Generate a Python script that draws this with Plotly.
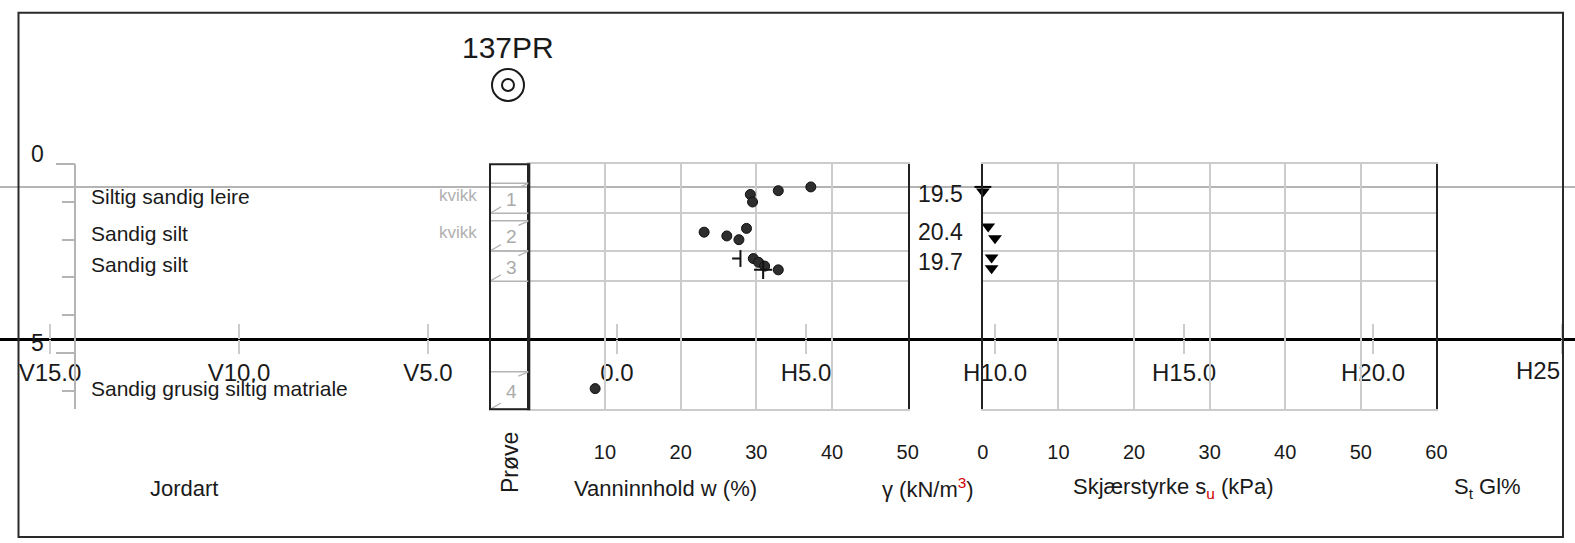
import plotly.graph_objects as go

# ---------------- data ----------------
title_text = "137PR"
w_depth = [0.6, 0.7, 0.8, 1.0, 1.7, 1.8, 1.9, 2.0, 2.5, 2.6, 2.7, 2.8, 5.95]
w_val = [37.2, 32.9, 29.2, 29.5, 28.7, 23.1, 26.1, 27.7, 29.6, 30.3, 31.1, 32.9, 8.7]
wp_depth = [2.5]
wp_val = [27.9]
wl_depth = [2.8]
wl_val = [30.9]
su_depth = [0.72, 1.65, 1.96, 2.47, 2.76]
su_val = [0.0, 0.7, 1.6, 1.15, 1.15]
st_depth = [0.6]
st_val = [0.0]
sample_no = [1, 2, 3, 4]
sample_top = [0.5, 1.5, 2.3, 5.5]
sample_bot = [1.3, 2.3, 3.1, 6.5]
soil = ["Siltig sandig leire", "Sandig silt", "Sandig silt", "Sandig grusig siltig matriale"]
remark = ["kvikk", "kvikk", "", ""]
gamma = ["19.5", "20.4", "19.7", ""]
gw_depth = 0.6
w_ticks = [10, 20, 30, 40, 50]
su_ticks = [0, 10, 20, 30, 40, 50, 60]
depth_ticks = [0, 1, 2, 3, 4, 5, 6]
depth_major = [0, 5]
xs_ticks = [-15, -10, -5, 0, 5, 10, 15, 20, 25]
xs_text = ["V15.0", "V10.0", "V5.0", "0.0", "H5.0", "H10.0", "H15.0", "H20.0", "H25"]

# ---------------- layout geometry ----------------
W, H = 1575, 543
TOP = 164.3      # px of depth 0
PPM = 37.7       # px per metre
DMAX = 6.5
X0 = 617         # px of section 0.0
PPU = 37.8       # px per section unit
FRAME_R = 1563

def fx(px):
    return px / W

def fy(py):
    return 1 - py / H

panel_dom = [fy(TOP + DMAX * PPM), fy(TOP)]
FN = "Liberation Sans Narrow, Arial Narrow, Liberation Sans, Arial, sans-serif"
FS = "Liberation Sans, Arial, sans-serif"
INK = "#1a1a1a"
GRID = "#cccccc"
LG = "#b4b4b4"

fig = go.Figure()

# registration traces for all subplots
for xa, ya in [("x", "y"), ("x", "y4"), ("x", "y5"), ("x4", "y"), ("x5", "y"), ("x6", "y")]:
    fig.add_trace(go.Scatter(x=[None], y=[None], xaxis=xa, yaxis=ya,
                             showlegend=False, hoverinfo="skip"))

# water content
fig.add_trace(go.Scatter(x=w_val, y=w_depth, xaxis="x2", yaxis="y2", mode="markers",
                         marker=dict(size=10, color="#2e2e2e", line=dict(color="#111", width=1)),
                         cliponaxis=False, showlegend=False, hoverinfo="skip"))
fig.add_trace(go.Scatter(x=wp_val, y=wp_depth, xaxis="x2", yaxis="y2", mode="markers",
                         marker=dict(symbol="line-ns", size=12, line=dict(color="#111", width=2)),
                         error_x=dict(type="data", symmetric=False, array=[0], arrayminus=[1.1],
                                      width=0, thickness=2, color="#111"),
                         cliponaxis=False, showlegend=False, hoverinfo="skip"))
fig.add_trace(go.Scatter(x=wl_val, y=wl_depth, xaxis="x2", yaxis="y2", mode="markers",
                         marker=dict(symbol="cross-thin", size=13, line=dict(color="#111", width=2)),
                         cliponaxis=False, showlegend=False, hoverinfo="skip"))

# shear strength
fig.add_trace(go.Scatter(x=su_val, y=su_depth, xaxis="x3", yaxis="y3", mode="markers",
                         marker=dict(symbol="triangle-down", size=12, color="#000"),
                         cliponaxis=False, showlegend=False, hoverinfo="skip"))
fig.add_trace(go.Scatter(x=st_val, y=st_depth, xaxis="x3", yaxis="y3", mode="markers",
                         marker=dict(symbol="line-ew", size=12, line=dict(color="#000", width=2)),
                         cliponaxis=False, showlegend=False, hoverinfo="skip"))

shapes = []
ann = []

# full width level line
shapes.append(dict(type="line", xref="paper", yref="y", x0=0, x1=1, y0=gw_depth, y1=gw_depth,
                   line=dict(color=LG, width=2), layer="below"))

# Prøve column
PX0, PX1 = 490, 529.3
for i in range(len(sample_no)):
    t, b = sample_top[i], sample_bot[i]
    for yy in (t, b):
        shapes.append(dict(type="line", xref="x", yref="y", x0=PX0, x1=PX1, y0=yy, y1=yy,
                           line=dict(color=LG, width=1.5)))
    shapes.append(dict(type="line", xref="x", yref="y", x0=PX0, x1=PX0 + 11, y0=b, y1=b - 0.17,
                       line=dict(color=LG, width=1.3)))
    shapes.append(dict(type="line", xref="x", yref="y", x0=PX1 - 11, x1=PX1, y0=t + 0.12, y1=t,
                       line=dict(color=LG, width=1.3)))
    mid = (t + b) / 2
    ann.append(dict(x=511, y=mid, xref="x", yref="y", text=str(sample_no[i]), showarrow=False,
                    xanchor="center", yanchor="middle",
                    font=dict(family=FN, size=19, color="#aaaaaa"), yshift=-1))
    ann.append(dict(x=89, y=mid, xref="x", yref="y", text=soil[i], showarrow=False,
                    xanchor="left", yanchor="middle",
                    font=dict(family=FS, size=21, color=INK), yshift=2))
    if remark[i]:
        ann.append(dict(x=458, y=mid, xref="x", yref="y", text=remark[i], showarrow=False,
                        xanchor="center", yanchor="middle",
                        font=dict(family=FS, size=17, color="#b0b0b0"), yshift=3))
    if gamma[i]:
        ann.append(dict(x=916, y=mid, xref="x", yref="y", text=gamma[i], showarrow=False,
                        xanchor="left", yanchor="middle",
                        font=dict(family=FN, size=23, color=INK), yshift=4))
shapes.append(dict(type="rect", xref="x", yref="y", x0=PX0, x1=PX1, y0=0, y1=DMAX,
                   line=dict(color="#222", width=2)))

# depth labels
for d in depth_major:
    ann.append(dict(x=37, y=d - 0.27, xref="x", yref="y", text=str(d), showarrow=False,
                    xanchor="center", yanchor="middle",
                    font=dict(family=FN, size=23, color=INK)))

# title & symbol
ann.append(dict(x=fx(508), y=fy(47), xref="paper", yref="paper", text=title_text, showarrow=False,
                xanchor="center", yanchor="middle",
                font=dict(family=FN, size=30, color=INK)))
for r in (16, 6):
    shapes.append(dict(type="circle", xref="x", yref="paper", x0=508 - r, x1=508 + r,
                       y0=fy(85 + r), y1=fy(85 - r), line=dict(color=INK, width=2)))

# bottom labels
ann.append(dict(x=fx(510), y=fy(463), xref="paper", yref="paper", text="Prøve", textangle=-90,
                xanchor="center", yanchor="middle",
                showarrow=False, font=dict(family=FS, size=23, color=INK)))
for txt, cx in [("Jordart", 184), ("Vanninnhold w (%)", 665),
                ("γ (kN/m<sup><span style='color:#d00000'>3</span></sup>)", 928),
                ("Skjærstyrke s<sub><span style='color:#d00000'>u</span></sub> (kPa)", 1173),
                ("S<sub>t</sub> Gl%", 1487)]:
    ann.append(dict(x=fx(cx), y=fy(488), xref="paper", yref="paper", text=txt, showarrow=False,
                    xanchor="center", yanchor="middle",
                    font=dict(family=FS, size=22, color=INK)))

# last section label sits against the frame (clipped in the original)
ann.append(dict(x=fx(FRAME_R - 1), y=fy(370), xref="paper", yref="paper", text=xs_text[-1],
                showarrow=False, xanchor="right", yanchor="middle",
                font=dict(family=FN, size=24, color=INK)))
xs_labels = xs_text[:-1] + [""]

shapes.append(dict(type="rect", xref="paper", yref="paper", x0=fx(18.5), x1=fx(FRAME_R),
                   y0=fy(537), y1=fy(12.7), line=dict(color="#2a2a2a", width=2), layer="above"))

tickfont = dict(family=FN, size=20, color=INK)
xs_range = [-X0 / PPU, (W - X0) / PPU]

fig.update_layout(
    width=W, height=H, margin=dict(l=0, r=0, t=0, b=0, autoexpand=False),
    paper_bgcolor="white", plot_bgcolor="rgba(0,0,0,0)",
    showlegend=False, shapes=shapes, annotations=ann,
    xaxis=dict(domain=[0, 1], range=[0, W], visible=False, anchor="y"),
    yaxis=dict(domain=[0, 1], range=[(H - TOP) / PPM, -TOP / PPM], visible=False, anchor="x"),
    xaxis2=dict(domain=[fx(529.3), fx(907.7)], range=[0, 50], anchor="y2",
                tickvals=w_ticks, showgrid=True, gridcolor=GRID, gridwidth=1.5,
                zeroline=False, showline=True, mirror=True, linecolor=GRID, linewidth=1.5,
                ticks="", tickfont=tickfont, ticklabelstandoff=24),
    yaxis2=dict(domain=panel_dom, range=[DMAX, 0], anchor="x2",
                tickvals=sample_bot, showgrid=True, gridcolor=GRID, gridwidth=1.5,
                zeroline=False, showticklabels=False, ticks="",
                showline=True, mirror=True, linecolor="#222", linewidth=2),
    xaxis3=dict(domain=[fx(982.9), fx(1436.4)], range=[0, 60], anchor="y3",
                tickvals=su_ticks, showgrid=True, gridcolor=GRID, gridwidth=1.5,
                zeroline=False, showline=True, mirror=True, linecolor=GRID, linewidth=1.5,
                ticks="", tickfont=tickfont, ticklabelstandoff=24),
    yaxis3=dict(domain=panel_dom, range=[DMAX, 0], anchor="x3",
                tickvals=sample_bot, showgrid=True, gridcolor=GRID, gridwidth=1.5,
                zeroline=False, showticklabels=False, ticks="",
                showline=True, mirror=True, linecolor="#222", linewidth=2),
    yaxis4=dict(domain=panel_dom, range=[DMAX, 0], anchor="free", position=fx(75), side="left",
                showline=True, linecolor=LG, linewidth=1.5, ticks="outside", ticklen=12,
                tickcolor=LG, tickwidth=1.5, tickvals=depth_ticks, showticklabels=False,
                showgrid=False, zeroline=False),
    yaxis5=dict(overlaying="y4", range=[DMAX, 0], anchor="free", position=fx(75), side="left",
                showline=False, ticks="outside", ticklen=19, tickcolor=LG, tickwidth=1.5,
                tickvals=depth_major, showticklabels=False, showgrid=False, zeroline=False),
    xaxis4=dict(overlaying="x", range=xs_range, anchor="free",
                position=fy(338.5), side="bottom", showline=True, linecolor="#000", linewidth=3,
                ticks="", tickvals=xs_ticks, ticktext=xs_labels,
                tickfont=dict(family=FN, size=24, color=INK), ticklabeloverflow="allow",
                ticklabelstandoff=12, showgrid=False, zeroline=False),
    xaxis5=dict(overlaying="x", range=xs_range, anchor="free",
                position=fy(338.5), side="bottom", showline=False, ticks="inside", ticklen=15,
                tickcolor=GRID, tickwidth=1.5, tickvals=xs_ticks, showticklabels=False,
                showgrid=False, zeroline=False),
    xaxis6=dict(overlaying="x", range=xs_range, anchor="free",
                position=fy(338.5), side="bottom", showline=False, ticks="outside", ticklen=14,
                tickcolor=GRID, tickwidth=1.5, tickvals=xs_ticks, showticklabels=False,
                showgrid=False, zeroline=False),
)

fig.write_html("out.html")
